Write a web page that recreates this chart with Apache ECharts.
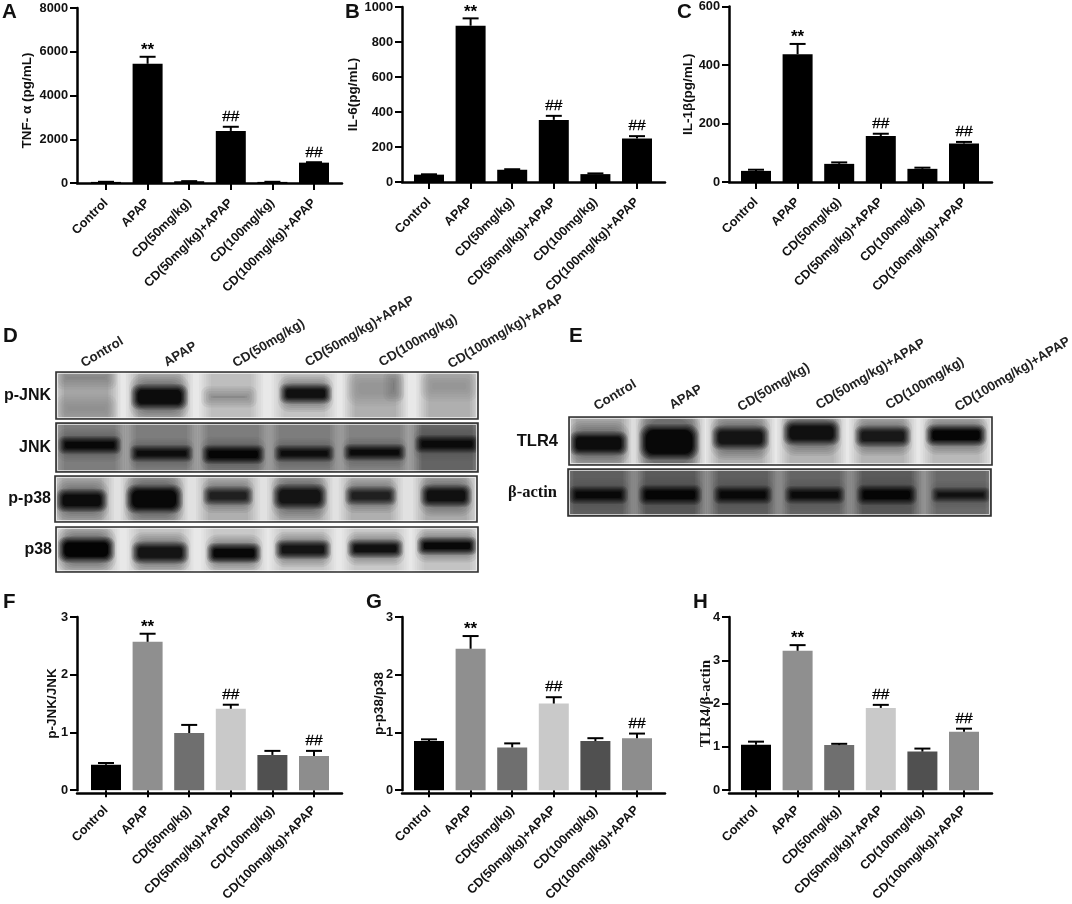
<!DOCTYPE html>
<html><head><meta charset="utf-8">
<style>html,body{margin:0;padding:0;background:#fff}#c{width:1072px;height:904px}</style>
<script src="https://cdn.jsdelivr.net/npm/echarts@6/dist/echarts.min.js"></script>
</head><body><div id="c"></div>
<script>
const groups = ['Control','APAP','CD(50mg/kg)','CD(50mg/kg)+APAP','CD(100mg/kg)','CD(100mg/kg)+APAP'];
const sigMarks = ['','**','','##','','##'];
const blackFill = ['#000','#000','#000','#000','#000','#000'];
const grayFill = ['#000','#8f8f8f','#6f6f6f','#c9c9c9','#505050','#8d8d8d'];

const tnfValues = [50,5450,80,2380,50,930];
const tnfTops   = [55,5770,85,2570,55,950];
const il6Values = [42,893,70,355,45,248];
const il6Tops   = [44,935,73,378,49,262];
const il1Values = [38,437,62,157,45,132];
const il1Tops   = [42,472,67,165,49,137];
const jnkValues = [0.44,2.57,0.99,1.41,0.61,0.59];
const jnkTops   = [0.47,2.71,1.13,1.48,0.68,0.68];
const p38Values = [0.85,2.45,0.74,1.50,0.85,0.90];
const p38Tops   = [0.88,2.67,0.81,1.61,0.90,0.98];
const tlrValues = [1.05,3.22,1.04,1.90,0.89,1.35];
const tlrTops   = [1.12,3.35,1.07,1.97,0.96,1.42];

// blot lanes: [lane x, y (0 top .. 1 bottom), width, height, gray level]
const pJnkBands = [[3,.5,6,1,232],[.43,.5,.8,1,165],[1.47,.5,.78,1,180],[2.49,.5,.74,1,190],[3.53,.5,.76,1,195],[4.54,.5,.76,1,175],[5.59,.5,.76,1,175],
 [.43,.78,.7,.35,140],[.43,.12,.7,.25,125],[1.47,.53,.72,.42,12],[2.46,.53,.62,.2,120],[3.55,.46,.65,.3,16],[4.54,.35,.65,.5,145],[4.8,.3,.12,.4,115],[5.59,.3,.65,.4,145]];
const jnkBands = [[3,.5,6,1,175],[.48,.5,.9,1,125],[1.5,.5,.9,1,125],[2.52,.5,.9,1,125],[3.53,.5,.9,1,125],[4.53,.5,.9,1,130],[5.56,.5,.9,1,100],
 [.48,.45,.8,.25,8],[1.5,.62,.8,.22,12],[2.52,.64,.8,.27,5],[3.53,.62,.76,.22,12],[4.53,.6,.79,.22,10],[5.56,.43,.82,.25,10]];
const pP38Bands = [[3,.5,6,1,225],[.38,.5,.74,1,170],[1.41,.5,.78,1,170],[2.46,.5,.74,1,175],[3.48,.5,.76,1,170],[4.49,.5,.74,1,175],[5.56,.5,.76,1,170],
 [.38,.53,.64,.38,12],[1.41,.5,.72,.5,8],[2.46,.43,.62,.28,32],[3.48,.45,.68,.42,20],[4.49,.43,.64,.28,32],[5.56,.43,.64,.36,16]];
const p38Bands = [[3,.5,6,1,232],[.43,.5,.78,1,195],[1.48,.5,.78,1,195],[2.53,.5,.76,1,200],[3.51,.5,.78,1,200],[4.54,.5,.78,1,200],[5.56,.5,.82,1,195],
 [.43,.5,.72,.45,4],[1.48,.57,.72,.36,20],[2.53,.58,.68,.32,8],[3.51,.5,.7,.3,20],[4.54,.48,.7,.28,16],[5.56,.42,.76,.27,8]];
const tlrBands = [[3,.5,6,1,232],[.42,.5,.82,1,165],[1.42,.5,.84,1,160],[2.43,.5,.8,1,175],[3.44,.5,.8,1,180],[4.45,.5,.78,1,180],[5.49,.5,.84,1,185],
 [.42,.55,.74,.38,12],[1.42,.52,.76,.62,8],[2.43,.43,.72,.38,20],[3.44,.33,.72,.4,16],[4.45,.4,.7,.32,24],[5.49,.38,.77,.32,5]];
const actinBands = [[3,.5,6,1,155],[.43,.5,.88,1,95],[1.45,.5,.88,1,90],[2.48,.5,.88,1,95],[3.5,.5,.88,1,100],[4.52,.5,.88,1,90],[5.57,.5,.88,1,105],
 [.43,.55,.74,.26,8],[1.45,.55,.8,.3,5],[2.48,.55,.74,.27,8],[3.5,.55,.76,.25,10],[4.52,.55,.76,.3,5],[5.57,.55,.74,.2,16]];
const laneLabelsD = [[.37,-.16],[1.55,-.18],[2.53,-.16],[3.56,-.18],[4.61,-.18],[5.59,-.14]];
const laneLabelsE = [[.37,-.2],[1.44,-.22],[2.41,-.18],[3.52,-.22],[4.51,-.22],[5.49,-.18]];

const SANS = '"Liberation Sans", Arial, sans-serif';
const SERIF = '"Liberation Serif", "Times New Roman", serif';

const panels = [
 {vals:tnfValues,tops:tnfTops,max:8000,step:2000,axis:77,first:106,top:8,bottom:183,end:342,fill:blackFill,name:'TNF- α (pg/mL)',gap:43,pad:10},
 {vals:il6Values,tops:il6Tops,max:1000,step:200,axis:402,first:429,top:7,bottom:182,end:665,fill:blackFill,name:'IL-6(pg/mL)',gap:42},
 {vals:il1Values,tops:il1Tops,max:600,step:200,axis:729,first:756,top:6,bottom:182,end:992,fill:blackFill,name:'IL-1β(pg/mL)',gap:34},
 {vals:jnkValues,tops:jnkTops,max:3,step:1,axis:77,first:106,top:617,bottom:793,end:342,fill:grayFill,name:'p-JNK/JNK',gap:18},
 {vals:p38Values,tops:p38Tops,max:3,step:1,axis:402,first:429,top:617,bottom:793,end:665,fill:grayFill,name:'p-p38/p38',gap:16},
 {vals:tlrValues,tops:tlrTops,max:4,step:1,axis:729,first:756,top:617,bottom:793,end:992,fill:grayFill,name:'TLR4/β-actin',gap:15,serif:true}
];
const blots = [
 {bands:pJnkBands,l:56,r:478,t:372,b:419,label:'p-JNK',gap:5},
 {bands:jnkBands,l:56,r:478,t:423,b:472,label:'JNK',gap:5},
 {bands:pP38Bands,l:55,r:477,t:476,b:522,label:'p-p38',gap:4},
 {bands:p38Bands,l:56,r:478,t:527,b:572,label:'p38',gap:4},
 {bands:tlrBands,l:569,r:992,t:417,b:465,label:'TLR4',gap:11,size:16.5},
 {bands:actinBands,l:568,r:991,t:469,b:516,label:'β-actin',gap:11,serif:true,size:16.5}
];
const letters = [['A',2,2],['B',345,2],['C',677,2],['D',3,326],['E',569,326],['F',3,592],['G',366,592],['H',693,592]];

const grid=[],xAxis=[],yAxis=[],series=[];
const STEP=41.6;
panels.forEach(p=>{
  const gi=grid.length;
  const left=p.first-STEP/2;
  grid.push({left:left,width:STEP*6,top:p.top,height:p.bottom-p.top});
  xAxis.push({gridIndex:gi,type:'category',data:groups,
    axisLine:{show:false},axisTick:{show:true,length:7,alignWithLabel:true,lineStyle:{color:'#000',width:2}},
    axisLabel:{interval:0,rotate:45,margin:18,fontFamily:SANS,fontWeight:'bold',fontSize:12.6,color:'#111'}});
  yAxis.push({gridIndex:gi,type:'value',min:0,max:p.max,interval:p.step,offset:left-p.axis,
    splitLine:{show:false},
    axisLine:{show:true,lineStyle:{color:'#000',width:2.5}},
    axisTick:{show:true,length:7,lineStyle:{color:'#000',width:2}},
    axisLabel:{margin:9,formatter:v=>String(v),fontFamily:SANS,fontWeight:'bold',fontSize:12.8,color:'#111'},
    name:p.name,nameLocation:'middle',nameGap:p.gap,nameRotate:90,nameMoveOverlap:false,
    nameTextStyle:{fontFamily:p.serif?SERIF:SANS,fontWeight:'bold',fontSize:p.serif?15:13.5,color:'#111',padding:[0,p.pad||0,0,0]}});
  series.push({type:'bar',xAxisIndex:gi,yAxisIndex:gi,barWidth:30,z:3,
    data:p.vals.map((v,i)=>({value:v,itemStyle:{color:p.fill[i]}}))});
  series.push({type:'custom',xAxisIndex:gi,yAxisIndex:gi,z:4,clip:false,
    data:p.vals.map((v,i)=>[i,v,p.tops[i]]),
    renderItem:(params,api)=>{
      const a=api.coord([api.value(0),api.value(1)]), b=api.coord([api.value(0),api.value(2)]);
      const st={stroke:'#000',lineWidth:2,fill:null};
      const kids=[
        {type:'line',shape:{x1:a[0],y1:a[1],x2:b[0],y2:b[1]},style:st},
        {type:'line',shape:{x1:b[0]-8,y1:b[1],x2:b[0]+8,y2:b[1]},style:st}];
      const m=sigMarks[params.dataIndex];
      if(m) kids.push({type:'text',x:b[0],y:b[1]-(m==='**'?-2:2),style:{text:m,
        font:m==='**'?'bold 17px '+SANS:'15.5px '+SANS,fill:'#000',stroke:m==='**'?null:'#000',lineWidth:.3,textAlign:'center',textVerticalAlign:'bottom'}});
      return {type:'group',children:kids};
    }});
  const gb=grid.length;
  grid.push({left:p.axis,width:p.end-p.axis,top:p.top,height:p.bottom-p.top});
  xAxis.push({gridIndex:gb,type:'value',min:0,max:1,axisLine:{show:true,onZero:false,lineStyle:{color:'#000',width:2.5}},
    axisTick:{show:false},axisLabel:{show:false},splitLine:{show:false}});
  yAxis.push({gridIndex:gb,type:'value',min:0,max:1,show:false});
});

// soft-edged band: stacked translucent rects whose coverage ramps from 0 to full
function softBand(p0,p1,g,edgeX,edgeY,peak){
  const L=6, kids=[];
  for(let k=1;k<=L;k++){
    const f=(L-k)/(L-1)-.5; // +.5 outermost .. -.5 innermost
    const ex=f*edgeX, ey=f*edgeY;
    const w=Math.max(1,p1[0]-p0[0]+2*ex), h=Math.max(1,p1[1]-p0[1]+2*ey);
    const x=(p0[0]+p1[0]-w)/2, y=(p0[1]+p1[1]-h)/2;
    const a=peak/(L-k+1+(1-peak)*(k-1));
    kids.push({type:'rect',shape:{x,y,width:w,height:h,r:Math.min(w,h)/3},
      style:{fill:'rgba('+g+','+g+','+g+','+Math.min(1,a).toFixed(3)+')'}});
  }
  return kids;
}
blots.forEach((b,k)=>{
  const gi=grid.length;
  grid.push({left:b.l,width:b.r-b.l,top:b.t,height:b.b-b.t});
  xAxis.push({gridIndex:gi,type:'value',min:0,max:6,show:false});
  yAxis.push({gridIndex:gi,type:'value',min:0,max:1,inverse:true,
    axisLine:{show:false},axisTick:{show:false},axisLabel:{show:false},splitLine:{show:false},
    name:b.label,nameLocation:'middle',nameRotate:0,nameGap:b.gap,nameMoveOverlap:false,
    nameTextStyle:{fontFamily:b.serif?SERIF:SANS,fontWeight:'bold',fontSize:b.size||16,color:'#111',align:'right',verticalAlign:'middle'}});
  series.push({type:'custom',xAxisIndex:gi,yAxisIndex:gi,z:2,clip:true,data:b.bands,
    renderItem:(params,api)=>{
      const x=api.value(0),y=api.value(1),w=api.value(2),h=api.value(3),g=api.value(4);
      if(w>=6){
        const p0=api.coord([0,0]),p1=api.coord([6,1]);
        return {type:'rect',shape:{x:p0[0],y:p0[1],width:p1[0]-p0[0],height:p1[1]-p0[1]},style:{fill:'rgb('+g+','+g+','+g+')'}};
      }
      if(h>=1){
        const p0=api.coord([x-w/2,-.6]),p1=api.coord([x+w/2,1.6]);
        return {type:'group',children:softBand(p0,p1,g,12,0,1)};
      }
      const p0=api.coord([x-w/2,y-h/2]),p1=api.coord([x+w/2,y+h/2]);
      const kids=[];
      if(g<60){
        const q0=api.coord([x-w/2,y-h*.95]),q1=api.coord([x+w/2,y+h*.95]);
        kids.push(...softBand(q0,q1,80,10,10,.6));
        kids.push(...softBand(p0,p1,g,7,6,1));
      } else {
        kids.push(...softBand(p0,p1,g,12,12,.8));
      }
      return {type:'group',children:kids};
    }});
  series.push({type:'custom',xAxisIndex:gi,yAxisIndex:gi,z:3,clip:false,data:[[0,0,6,1]],
    renderItem:(params,api)=>{
      const p0=api.coord([api.value(0),api.value(1)]),p1=api.coord([api.value(2),api.value(3)]);
      return {type:'group',children:[
        {type:'rect',shape:{x:p0[0]+1.5,y:p0[1]+1.5,width:p1[0]-p0[0]-3,height:p1[1]-p0[1]-3},style:{fill:null,stroke:'rgba(245,245,245,0.7)',lineWidth:1}},
        {type:'rect',shape:{x:p0[0],y:p0[1],width:p1[0]-p0[0],height:p1[1]-p0[1]},style:{fill:null,stroke:'#2e2e2e',lineWidth:1.6}}]};
    }});
  const labels = k===0?laneLabelsD:(k===4?laneLabelsE:null);
  if(labels) series.push({type:'custom',xAxisIndex:gi,yAxisIndex:gi,z:5,clip:false,data:labels,
    renderItem:(params,api)=>{
      const p=api.coord([api.value(0),api.value(1)]);
      return {type:'text',x:p[0],y:p[1],rotation:31*Math.PI/180,originX:0,originY:0,
        style:{text:groups[params.dataIndex],font:'bold 13.2px '+SANS,fill:'#222',textAlign:'left',textVerticalAlign:'middle'}};
    }});
});

const chart=echarts.init(document.getElementById('c'),null,{renderer:'canvas',width:1072,height:904});
chart.setOption({
  animation:false,backgroundColor:'#fff',tooltip:{show:false},
  grid,xAxis,yAxis,series,
  graphic:letters.map(l=>({type:'text',left:l[1],top:l[2],style:{text:l[0],font:'bold 20.5px '+SANS,fill:'#111'}}))
});
</script></body></html>
